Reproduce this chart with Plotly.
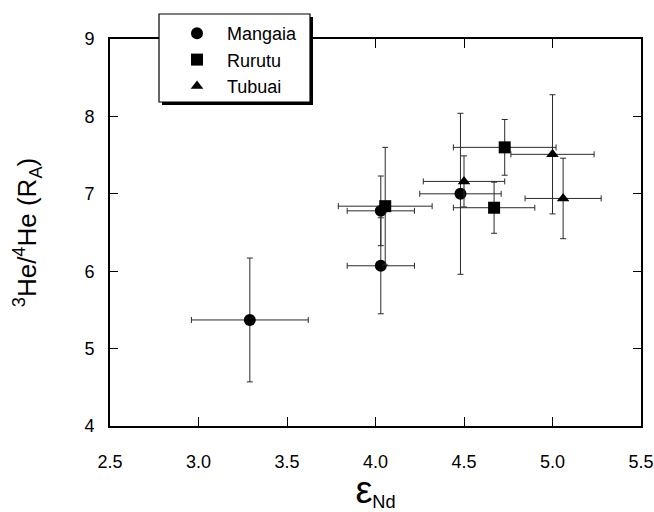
import plotly.graph_objects as go

# Mangaia
mangaia_end = [3.29, 4.03, 4.03, 4.48]
mangaia_he = [5.37, 6.78, 6.07, 7.00]
mangaia_end_err = [0.33, 0.19, 0.19, 0.23]
mangaia_he_err = [0.80, 0.45, 0.62, 1.04]

# Rurutu
rurutu_end = [4.055, 4.73, 4.67]
rurutu_he = [6.84, 7.60, 6.82]
rurutu_end_err = [0.265, 0.29, 0.23]
rurutu_he_err = [0.76, 0.36, 0.33]

# Tubuai
tubuai_end = [4.50, 5.00, 5.06]
tubuai_he = [7.16, 7.51, 6.94]
tubuai_end_err = [0.23, 0.235, 0.215]
tubuai_he_err = [0.33, 0.77, 0.52]

x_ticks = [2.5, 3.0, 3.5, 4.0, 4.5, 5.0, 5.5]
y_ticks = [4, 5, 6, 7, 8, 9]

FONT = "Liberation Sans, Arial, Helvetica, sans-serif"
ERR_COLOR = "#2a2a2a"
NBSP = "\u00a0"

series = [
    ("Mangaia", mangaia_end, mangaia_he, mangaia_end_err, mangaia_he_err, "circle", 12),
    ("Rurutu", rurutu_end, rurutu_he, rurutu_end_err, rurutu_he_err, "square", 12),
    ("Tubuai", tubuai_end, tubuai_he, tubuai_end_err, tubuai_he_err, "triangle-up", 11),
]

fig = go.Figure()
for name, xs, ys, xe, ye, sym, size in series:
    fig.add_trace(go.Scatter(
        x=xs, y=ys, name=NBSP + name, mode="markers",
        marker=dict(symbol=sym, size=size, color="black", line=dict(width=0)),
        error_x=dict(type="data", array=xe, visible=True, color=ERR_COLOR,
                     thickness=1, width=3),
        error_y=dict(type="data", array=ye, visible=True, color=ERR_COLOR,
                     thickness=1, width=3),
    ))

# plot area in pixels (used to place the legend frame in paper units)
L, R, T, B = 110, 641, 39, 426
W, H = 654, 512


def px(xp):
    return (xp - L) / (R - L)


def py(yp):
    return (B - yp) / (B - T)


box = dict(x0=159, x1=310, y0=14, y1=102)
shadow = 3

shapes = [
    dict(type="rect", xref="paper", yref="paper", layer="above",
         x0=px(box["x0"] + shadow), x1=px(box["x1"] + shadow),
         y0=py(box["y1"] + shadow), y1=py(box["y0"] + shadow),
         fillcolor="black", line=dict(width=0)),
    dict(type="rect", xref="paper", yref="paper", layer="above",
         x0=px(box["x0"]), x1=px(box["x1"]),
         y0=py(box["y1"]), y1=py(box["y0"]),
         fillcolor="white", line=dict(color="black", width=1.2)),
]

axis_common = dict(
    showline=True, linewidth=2, linecolor="black", mirror="ticks",
    ticks="inside", tickwidth=1, tickcolor="black",
    showgrid=False, zeroline=False, ticklabeloverflow="allow",
    tickfont=dict(family=FONT, size=18, color="black"),
)

fig.update_layout(
    width=W, height=H,
    margin=dict(l=L, r=W - R, t=T, b=H - B, autoexpand=False),
    paper_bgcolor="white", plot_bgcolor="white",
    font=dict(family=FONT, color="black"),
    showlegend=True,
    legend=dict(
        x=px(172), y=py(15), xanchor="left", yanchor="top",
        bgcolor="rgba(0,0,0,0)", borderwidth=0,
        font=dict(family=FONT, size=18, color="black"),
        itemwidth=40, tracegroupgap=0,
    ),
    shapes=shapes,
    xaxis=dict(
        range=[2.5, 5.5], tickvals=x_ticks, tickformat=".1f", ticklen=9,
        ticklabelstandoff=18,
        title=dict(text='<span style="font-size:38px">ε</span><sub>Nd</sub>',
                   font=dict(family=FONT, size=26), standoff=4),
        **axis_common,
    ),
    yaxis=dict(
        range=[4, 9], tickvals=y_ticks, ticklen=8,
        ticklabelstandoff=10,
        title=dict(text="<sup>3</sup>He/<sup>4</sup>He (R<sub>A</sub>)",
                   font=dict(family=FONT, size=26), standoff=40),
        **axis_common,
    ),
)

fig.write_html("out.html")
